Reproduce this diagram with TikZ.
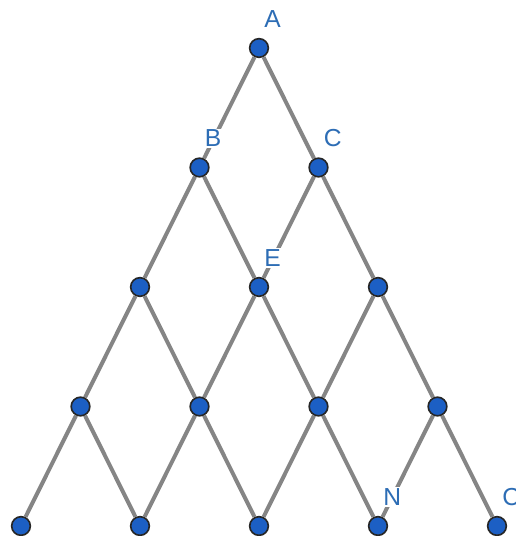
\documentclass[tikz,border=0pt]{standalone}
\usepackage{fontspec}
\setsansfont{Liberation Sans}
\usetikzlibrary{positioning}
\definecolor{dotblue}{HTML}{1C5FC4}
\definecolor{txtblue}{HTML}{2D6DB5}
\definecolor{edgegray}{HTML}{858585}

\tikzset{
  pt/.style={circle, draw=black!85, fill=dotblue, line width=1.4pt,
    minimum size=0.56cm, inner sep=0pt},
  lbl/.style={fill=white, text=txtblue, inner sep=1pt,
    font=\sffamily\fontsize{21}{21}\selectfont},
  seg/.style={draw=edgegray, line width=3.4pt}
}

\begin{document}
\begin{tikzpicture}[x=0.03cm, y=-0.03cm]
    \useasboundingbox (0,0) rectangle (516,536);
    \foreach \r in {0,...,4}
      \foreach \k in {0,...,\r}
        \node[pt] (n\r\k) at ({259+59.5*(2*\k-\r)}, {48+119.5*\r}) {};
    \foreach \r in {0,...,3}
      \foreach \k in {0,...,\r} {
        \pgfmathtruncatemacro\s{\r+1}
        \pgfmathtruncatemacro\j{\k+1}
        \draw[seg] (n\r\k) -- (n\s\k);
        \draw[seg] (n\r\k) -- (n\s\j);
      }
    \node[lbl, above right=0.36cm and -0.1cm of n00] (lA) {A};
    \node[lbl, above right=0.36cm and -0.1cm of n10] (lB) {B};
    \node[lbl, above right=0.36cm and -0.1cm of n11] (lC) {C};
    \node[lbl, above right=0.36cm and -0.1cm of n21] (lE) {E};
    \node[lbl, above right=0.36cm and -0.1cm of n43] (lN) {N};
    \node[lbl, above right=0.36cm and -0.1cm of n44] (lO) {C};
  \end{tikzpicture}
\end{document}
